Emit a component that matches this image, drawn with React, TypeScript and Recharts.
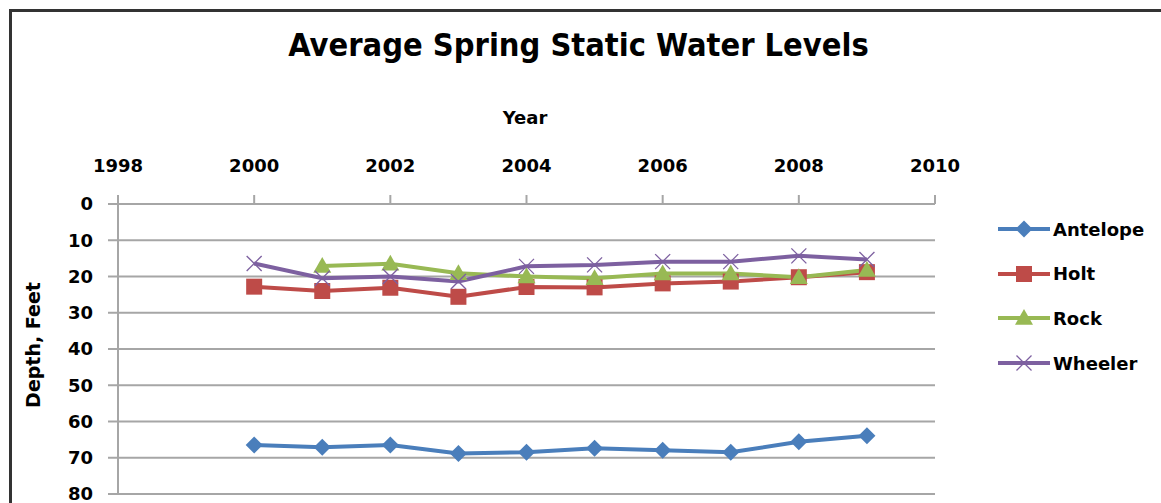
import React from "react";
import { LineChart, Line, XAxis, YAxis, CartesianGrid } from "recharts";

const years = [2000, 2001, 2002, 2003, 2004, 2005, 2006, 2007, 2008, 2009];
const antelope = [66.5, 67.1, 66.5, 68.8, 68.5, 67.4, 67.9, 68.5, 65.6, 63.9];
const holt = [22.8, 24.0, 23.1, 25.6, 22.9, 23.0, 21.9, 21.4, 20.2, 18.8];
const rock = [null, 17.1, 16.5, 19.1, 20.0, 20.5, 19.2, 19.2, 20.2, 18.2];
const wheeler = [16.4, 20.5, 20.0, 21.4, 17.2, 16.8, 15.9, 15.9, 14.3, 15.3];
const xTicks = [1998, 2000, 2002, 2004, 2006, 2008, 2010];
const yTicks = [0, 10, 20, 30, 40, 50, 60, 70, 80];

const seriesList = [
  { key: "Antelope", values: antelope, color: "#4a7ebb", marker: "diamond" },
  { key: "Holt", values: holt, color: "#be4b48", marker: "square" },
  { key: "Rock", values: rock, color: "#98b954", marker: "triangle" },
  { key: "Wheeler", values: wheeler, color: "#7d60a0", marker: "star" },
];

const data = years.map((y, i) => {
  const row: any = { year: y };
  seriesList.forEach((s) => {
    row[s.key] = s.values[i];
  });
  return row;
});

function Marker({ type, cx, cy, color }: any) {
  if (cx == null || cy == null || isNaN(cx) || isNaN(cy)) return null;
  if (type === "diamond") {
    const r = 8.5;
    return <polygon points={`${cx},${cy - r} ${cx + r},${cy} ${cx},${cy + r} ${cx - r},${cy}`} fill={color} />;
  }
  if (type === "square") {
    const r = 8;
    return <rect x={cx - r} y={cy - r} width={2 * r} height={2 * r} fill={color} />;
  }
  if (type === "triangle") {
    const r = 9;
    return <polygon points={`${cx},${cy - r} ${cx + r},${cy + r * 0.75} ${cx - r},${cy + r * 0.75}`} fill={color} />;
  }
  const r = 7.5;
  return (
    <g stroke={color} strokeWidth={1.3}>
      <line x1={cx - r} y1={cy - r} x2={cx + r} y2={cy + r} />
      <line x1={cx - r} y1={cy + r} x2={cx + r} y2={cy - r} />
    </g>
  );
}

const tickFont = { fontFamily: "'DejaVu Sans', sans-serif", fontSize: 18, fontWeight: 700, fill: "#000" };

export default function App() {
  return (
    <div style={{ position: "absolute", left: 0, top: 0, width: 1161, height: 503, background: "#fff", overflow: "hidden" }}>
      <div style={{ position: "absolute", left: 9, top: 9, width: 1200, height: 600, border: "3px solid #333", boxSizing: "border-box" }} />
      <div
        style={{
          position: "absolute",
          left: 0,
          width: 1161,
          top: 20,
          textAlign: "center",
          paddingRight: 4,
          boxSizing: "border-box",
          fontFamily: "'DejaVu Sans Condensed', 'DejaVu Sans', sans-serif",
          fontWeight: 700,
          fontSize: 32.3,
          lineHeight: "50px",
          color: "#000",
        }}
      >
        Average Spring Static Water Levels
      </div>
      <div
        style={{
          position: "absolute",
          left: 425,
          width: 200,
          top: 104,
          textAlign: "center",
          fontFamily: "'DejaVu Sans', sans-serif",
          fontWeight: 700,
          fontSize: 18,
          lineHeight: "28px",
        }}
      >
        Year
      </div>
      <div
        style={{
          position: "absolute",
          left: 33 - 80,
          top: 345 - 14,
          width: 160,
          height: 28,
          textAlign: "center",
          transform: "rotate(-90deg)",
          fontFamily: "'DejaVu Sans', sans-serif",
          fontWeight: 700,
          fontSize: 19,
          lineHeight: "28px",
        }}
      >
        Depth, Feet
      </div>
      <div style={{ position: "absolute", left: 0, top: 0 }}>
        <LineChart width={1161} height={503} data={data} margin={{ top: 144, left: 58, right: 226, bottom: 9 }}>
          <CartesianGrid vertical={false} stroke="#a6a6a6" strokeWidth={2} />
          <XAxis
            dataKey="year"
            type="number"
            orientation="top"
            domain={[1998, 2010]}
            ticks={xTicks}
            height={60}
            tickSize={9}
            tickMargin={23}
            tick={tickFont}
            axisLine={{ stroke: "#a6a6a6", strokeWidth: 2 }}
            tickLine={{ stroke: "#a6a6a6", strokeWidth: 2 }}
            allowDataOverflow
          />
          <YAxis
            type="number"
            reversed
            domain={[0, 80]}
            ticks={yTicks}
            width={60}
            tickSize={10}
            tickMargin={15}
            tick={tickFont}
            axisLine={{ stroke: "#a6a6a6", strokeWidth: 2 }}
            tickLine={{ stroke: "#a6a6a6", strokeWidth: 2 }}
            interval={0}
          />
          {seriesList.map((s) => (
            <Line
              key={s.key}
              dataKey={s.key}
              stroke={s.color}
              strokeWidth={4}
              isAnimationActive={false}
              connectNulls={false}
              dot={(p: any) => <Marker key={`${s.key}-${p.index}`} type={s.marker} cx={p.cx} cy={p.cy} color={s.color} />}
              activeDot={false}
            />
          ))}
        </LineChart>
      </div>
      {seriesList.map((s, i) => (
        <div key={s.key} style={{ position: "absolute", left: 996, top: 229 + i * 44.7 - 14, height: 28, display: "flex", alignItems: "center" }}>
          <svg width={56} height={28}>
            <line x1={2} y1={14} x2={54} y2={14} stroke={s.color} strokeWidth={4} />
            <Marker type={s.marker} cx={28} cy={14} color={s.color} />
          </svg>
          <span style={{ fontFamily: "'DejaVu Sans', sans-serif", fontWeight: 700, fontSize: 18, color: "#000", marginLeft: 1 }}>{s.key}</span>
        </div>
      ))}
    </div>
  );
}
